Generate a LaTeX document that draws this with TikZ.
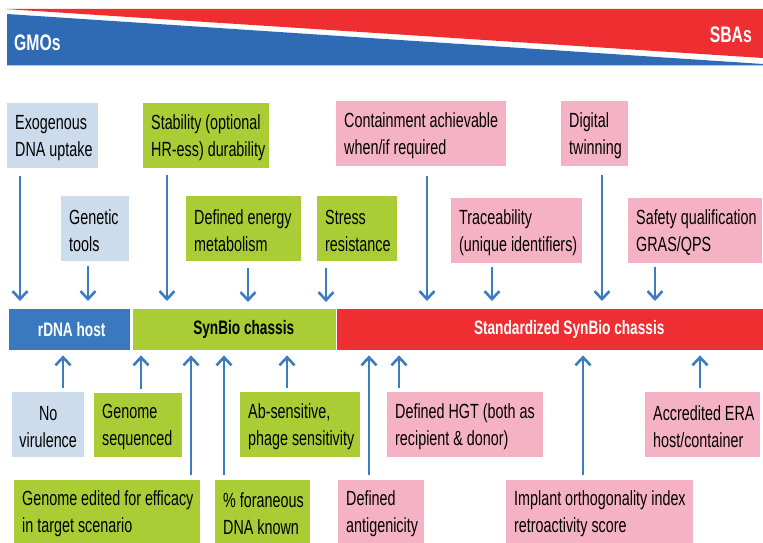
\documentclass[tikz,border=0pt]{standalone}
\usepackage{fontspec}
\setmainfont[FakeStretch=0.70]{Liberation Sans}
\usetikzlibrary{arrows.meta}
\definecolor{lblue}{HTML}{CCDCEC}
\definecolor{lgreen}{HTML}{AACD35}
\definecolor{lpink}{HTML}{F6B2C5}
\definecolor{hred}{HTML}{EE2E31}
\definecolor{hblue}{HTML}{2F6BB4}
\definecolor{barblue}{HTML}{3A79BF}
\definecolor{arrblue}{HTML}{3B7CC3}
\newcommand{\drawbox}[7]{%
  \node[fill=#2, anchor=north west, inner sep=0pt,
        minimum height=\the\numexpr #6-#4\relax pt,
        minimum width=\the\numexpr #5-#3\relax pt]
        (#1) at (#3,#4) {};
  \node[anchor=west, inner sep=0pt, align=left, font=\fontsize{20.5}{27}\selectfont]
        (#1-t) at ([xshift=8pt,yshift=-2pt]#1.west) {#7};}
\begin{document}
\begin{tikzpicture}[x=1pt,y=-1pt,
  arr/.style={draw=arrblue, line width=2.6pt, -{Straight Barb[length=8pt,width=15pt,line width=2.6pt]}},
  bar/.style={anchor=north west, inner sep=0pt, minimum height=41pt},
  barlabel/.style={inner sep=0pt, text=white, font=\fontsize{19.5}{21}\selectfont\bfseries},
  ]
\useasboundingbox (0,0) rectangle (763,543);
% header
\fill[hred] (5,9) -- (763,9) -- (763,58) -- cycle;
\fill[hblue] (7,14) -- (763,64) -- (763,65) -- (7,65) -- cycle;
\draw[color=lblue!80!hblue, line width=1pt] (7,65.5) -- (763,65.5);
\node[anchor=west, text=white, inner sep=0pt, font=\fontsize{22.5}{24}\selectfont\bfseries] (gmo) at (14,43) {GMOs};
\node[anchor=east, text=white, inner sep=0pt, font=\fontsize{22.5}{24}\selectfont\bfseries] (sba) at (752,35) {SBAs};
% bars
\node[bar, fill=barblue, minimum width=121pt] (rdna) at (9,309) {};
\node[bar, fill=lgreen, minimum width=203pt] (synbio) at (133,309) {};
\node[bar, fill=hred, minimum width=426pt] (std) at (337,309) {};
\node[barlabel] (rdna-t) at ([xshift=2pt]rdna.center) {rDNA host};
\node[barlabel, text=black] (synbio-t) at ([xshift=9pt]synbio.center) {SynBio chassis};
\node[barlabel] (std-t) at ([xshift=19pt]std.center) {Standardized SynBio chassis};
% top boxes
\drawbox{exo}{lblue}{7}{103}{98}{168}{Exogenous\\DNA uptake}
\drawbox{stab}{lgreen}{143}{103}{269}{168}{Stability (optional\\HR-ess) durability}
\drawbox{cont}{lpink}{336}{101}{506}{166}{Containment achievable\\when/if required}
\drawbox{dig}{lpink}{561}{101}{628}{166}{Digital\\twinning}
\drawbox{gen}{lblue}{61}{196}{129}{261}{Genetic\\tools}
\drawbox{ener}{lgreen}{186}{196}{301}{261}{Defined energy\\metabolism}
\drawbox{stress}{lgreen}{317}{196}{397}{261}{Stress\\resistance}
\drawbox{trace}{lpink}{451}{198}{582}{263}{Traceability\\(unique identifiers)}
\drawbox{safe}{lpink}{628}{198}{762}{263}{Safety qualification\\GRAS/QPS}
% bottom boxes
\node[fill=lblue, anchor=north west, inner sep=0pt, minimum width=72pt, minimum height=65pt] (novir) at (12,392) {};
\node[inner sep=0pt, align=center, font=\fontsize{20.5}{27}\selectfont] (novir-t) at ([yshift=-2pt]novir.center) {No\\virulence};
\drawbox{genseq}{lgreen}{94}{393}{182}{457}{Genome\\sequenced}
\drawbox{ab}{lgreen}{240}{392}{360}{457}{Ab-sensitive,\\phage sensitivity}
\drawbox{hgt}{lpink}{387}{392}{543}{457}{Defined HGT (both as\\recipient \& donor)}
\drawbox{era}{lpink}{645}{392}{760}{457}{Accredited ERA\\host/container}
\drawbox{edit}{lgreen}{14}{480}{200}{543}{Genome edited for efficacy\\in target scenario}
\drawbox{fora}{lgreen}{215}{480}{310}{543}{\% foraneous\\DNA known}
\drawbox{anti}{lpink}{338}{480}{424}{543}{Defined\\antigenicity}
\drawbox{impl}{lpink}{506}{480}{693}{543}{Implant orthogonality index\\retroactivity score}
% top arrows
\draw[arr, shorten <=8pt, shorten >=8pt] ([xshift=13pt]exo.south west) -- ([xshift=13pt]exo.south west |- rdna.north);
\draw[arr, shorten <=5pt, shorten >=8pt] ([xshift=27pt]gen.south west) -- ([xshift=27pt]gen.south west |- rdna.north);
\draw[arr, shorten <=7pt, shorten >=8pt] ([xshift=24pt]stab.south west) -- ([xshift=24pt]stab.south west |- synbio.north);
\draw[arr, shorten <=7pt, shorten >=7pt] ([xshift=62pt]ener.south west) -- ([xshift=62pt]ener.south west |- synbio.north);
\draw[arr, shorten <=7pt, shorten >=7pt] ([xshift=9pt]stress.south west) -- ([xshift=9pt]stress.south west |- synbio.north);
\draw[arr, shorten <=10pt, shorten >=8pt] ([xshift=91pt]cont.south west) -- ([xshift=91pt]cont.south west |- std.north);
\draw[arr, shorten <=4pt, shorten >=8pt] ([xshift=41pt]trace.south west) -- ([xshift=41pt]trace.south west |- std.north);
\draw[arr, shorten <=9pt, shorten >=8pt] ([xshift=41pt]dig.south west) -- ([xshift=41pt]dig.south west |- std.north);
\draw[arr, shorten <=4pt, shorten >=8pt] ([xshift=27pt]safe.south west) -- ([xshift=27pt]safe.south west |- std.north);
% bottom arrows
\draw[arr, shorten <=4pt, shorten >=5pt] ([xshift=51pt]novir.north west) -- ([xshift=51pt]novir.north west |- rdna.south);
\draw[arr, shorten <=4pt, shorten >=5pt] ([xshift=47pt]genseq.north west) -- ([xshift=47pt]genseq.north west |- synbio.south);
\draw[arr, shorten <=5pt, shorten >=5pt] ([xshift=177pt]edit.north west) -- ([xshift=177pt]edit.north west |- synbio.south);
\draw[arr, shorten <=5pt, shorten >=5pt] ([xshift=9pt]fora.north west) -- ([xshift=9pt]fora.north west |- synbio.south);
\draw[arr, shorten <=4pt, shorten >=5pt] ([xshift=47pt]ab.north west) -- ([xshift=47pt]ab.north west |- synbio.south);
\draw[arr, shorten <=5pt, shorten >=5pt] ([xshift=31pt]anti.north west) -- ([xshift=31pt]anti.north west |- std.south);
\draw[arr, shorten <=4pt, shorten >=5pt] ([xshift=12pt]hgt.north west) -- ([xshift=12pt]hgt.north west |- std.south);
\draw[arr, shorten <=5pt, shorten >=5pt] ([xshift=77pt]impl.north west) -- ([xshift=77pt]impl.north west |- std.south);
\draw[arr, shorten <=4pt, shorten >=5pt] ([xshift=55pt]era.north west) -- ([xshift=55pt]era.north west |- std.south);
\end{tikzpicture}
\end{document}
